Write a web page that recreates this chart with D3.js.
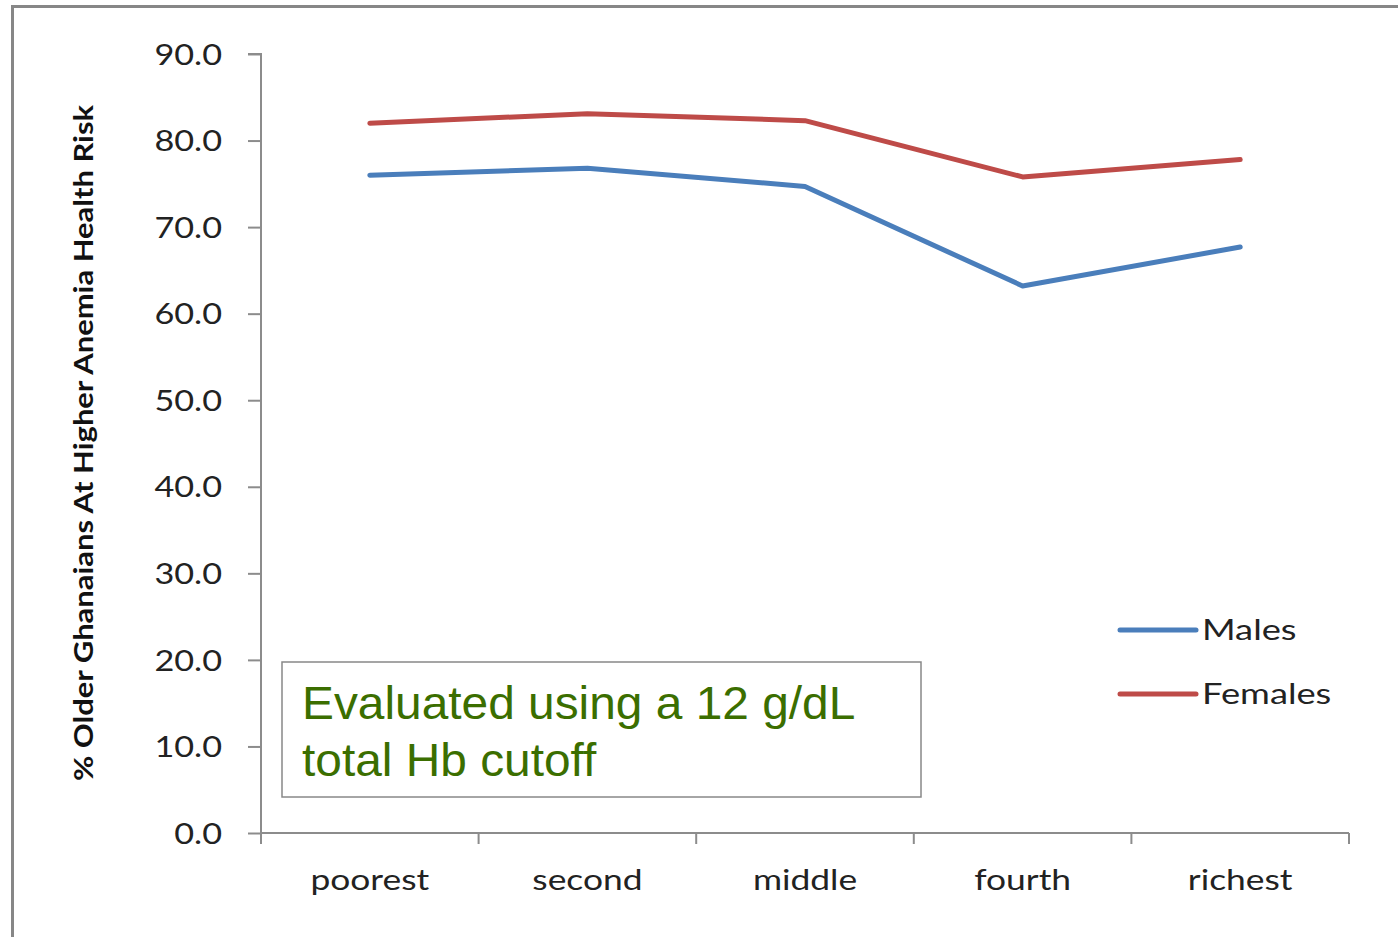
<!DOCTYPE html>
<html>
<head>
<meta charset="utf-8">
<script src="https://cdn.jsdelivr.net/npm/d3@7"></script>
<style>
  html, body { margin: 0; padding: 0; background: #fff; }
  svg { display: block; }
</style>
</head>
<body>
<script>
const categories = ["poorest", "second", "middle", "fourth", "richest"];
const males = [76.0, 76.8, 74.7, 63.2, 67.7];
const females = [82.0, 83.1, 82.3, 75.8, 77.8];
const seriesNames = ["Males", "Females"];
const seriesColors = ["#4a7ebb", "#be4b48"];
const yTicks = [0, 10, 20, 30, 40, 50, 60, 70, 80, 90];
const yTitle = "% Older Ghanaians At Higher Anemia Health Risk";
const noteLines = ["Evaluated using a 12 g/dL", "total Hb cutoff"];

(function () {
const W = 1398, H = 937;
const svg = d3.select("body").append("svg").attr("width", W).attr("height", H);

function stretch(sel, f) {
  sel.each(function () {
    const L = this.getComputedTextLength();
    d3.select(this).attr("textLength", L * f).attr("lengthAdjust", "spacingAndGlyphs");
  });
}

// outer frame
svg.append("rect").attr("x", 12.5).attr("y", 6.5).attr("width", W + 20).attr("height", H + 20)
  .attr("fill", "none").attr("stroke", "#878787").attr("stroke-width", 3);

const pLeft = 261, pRight = 1349, pTop = 54, pBottom = 833;
const x = d3.scaleBand().domain(categories).range([pLeft, pRight]);
const y = d3.scaleLinear().domain([0, 90]).range([pBottom, pTop]);

const font = "Lato, 'Open Sans', sans-serif";
const SF = 1.22;

// Y axis
const yAxis = d3.axisLeft(y).tickValues(yTicks).tickFormat(d3.format(".1f")).tickSize(13).tickPadding(26);
const gy = svg.append("g").attr("transform", `translate(${pLeft},0)`).call(yAxis);
gy.select(".domain").attr("stroke", "#8c8c8c").attr("stroke-width", 2).attr("d", `M-13,${pTop}H0V${pBottom}`);
gy.selectAll(".tick line").attr("stroke", "#8c8c8c").attr("stroke-width", 2);
gy.selectAll(".tick text").attr("font-family", font).attr("font-size", 29).attr("fill", "#222").attr("dy", "0.35em")
  .call(stretch, 1.18);

// X axis
const xAxis = d3.axisBottom(x).tickSize(0).tickPadding(37);
const gx = svg.append("g").attr("transform", `translate(0,${pBottom})`).call(xAxis);
gx.select(".domain").attr("stroke", "#8c8c8c").attr("stroke-width", 2).attr("d", `M${pLeft},0H${pRight}`);
gx.selectAll(".tick text").attr("font-family", font).attr("font-size", 29).attr("fill", "#222").attr("dy", "0.7em")
  .call(stretch, SF);
const bounds = categories.map(c => x(c)).concat([x(categories[categories.length - 1]) + x.bandwidth()]);
gx.selectAll("line.bound").data(bounds).enter().append("line").attr("class", "bound")
  .attr("x1", d => d).attr("x2", d => d).attr("y1", 0).attr("y2", 11)
  .attr("stroke", "#8c8c8c").attr("stroke-width", 2);

// Y title
svg.append("text")
  .attr("transform", `translate(93,${(108 + 778) / 2}) rotate(-90)`)
  .attr("text-anchor", "middle")
  .attr("font-family", font).attr("font-weight", "bold").attr("font-size", 26).attr("fill", "#111")
  .text(yTitle)
  .call(stretch, 1.19);

// lines
const line = d3.line().x((d, i) => x(categories[i]) + x.bandwidth() / 2).y(d => y(d));
[males, females].forEach((s, i) => {
  svg.append("path").datum(s).attr("d", line)
    .attr("fill", "none").attr("stroke", seriesColors[i]).attr("stroke-width", 5)
    .attr("stroke-linejoin", "round").attr("stroke-linecap", "round");
});

// legend
const legY = [630, 694];
seriesNames.forEach((n, i) => {
  svg.append("line").attr("x1", 1120).attr("x2", 1196).attr("y1", legY[i]).attr("y2", legY[i])
    .attr("stroke", seriesColors[i]).attr("stroke-width", 5).attr("stroke-linecap", "round");
  svg.append("text").attr("x", 1202).attr("y", legY[i]).attr("dy", "0.35em")
    .attr("font-family", font).attr("font-size", 29).attr("fill", "#222").text(n)
    .call(stretch, 1.25);
});

// note box
svg.append("rect").attr("x", 282).attr("y", 662).attr("width", 639).attr("height", 135)
  .attr("fill", "#fff").attr("stroke", "#888").attr("stroke-width", 1.5);
noteLines.forEach((t, i) => {
  svg.append("text").attr("x", 302).attr("y", 719 + i * 57)
    .attr("font-family", "'Liberation Sans', Arial, sans-serif").attr("font-size", 46)
    .attr("fill", "#3b6e00").text(t)
    .call(stretch, 1.04);
});
})();
</script>
</body>
</html>
